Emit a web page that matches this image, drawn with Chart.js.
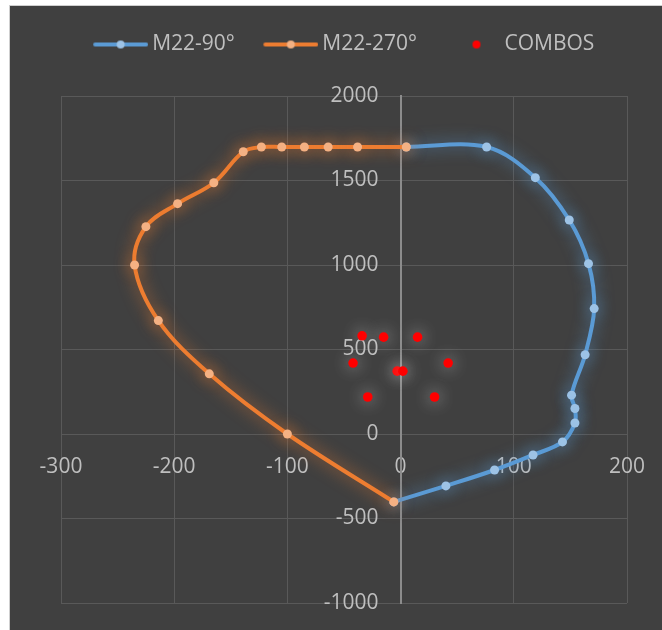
<!DOCTYPE html>
<html lang="en">
<head>
<meta charset="UTF-8">
<title>M22 interaction diagram</title>
<script src="https://cdn.jsdelivr.net/npm/chart.js"></script>
<style>
    body {
        margin: 0;
        background: #ffffff;
    }

    .panel {
        position: absolute;
        left: 9px;
        top: 5px;
        width: 653px;
        height: 625px;
        box-sizing: border-box;
        border-left: 1px solid #cfcfcf;
        border-top: 1px solid #cfcfcf;
        background: #404040;
    }

    .panel canvas {
        display: block;
    }
</style>
</head>
<body>
<div class="panel">
    <canvas id="chart" width="652" height="624"></canvas>
</div>

<script>
    // M22 curve at 90 degrees (moment x, axial y)
    var m22_90_x = [5, 76, 119, 149, 166, 171, 163, 151, 154, 154, 143, 117, 83, 40, -6];
    var m22_90_y = [1698, 1698, 1517, 1266, 1008, 742, 469, 230, 151, 65, -47, -124, -213, -307, -402];

    // M22 curve at 270 degrees
    var m22_270_x = [5, -38, -64, -85, -105, -123, -139, -165, -197, -225, -235, -214, -169, -100, -6];
    var m22_270_y = [1698, 1698, 1698, 1698, 1698, 1698, 1670, 1487, 1363, 1227, 1000, 671, 356, 0, -402];

    // load combinations
    var combos_x = [-34, -15, 15, -42, 42, -3, 2, -29, 30];
    var combos_y = [581, 573, 573, 420, 420, 372, 372, 219, 219];

    var xTicks = [-300, -200, -100, 0, 100, 200];
    var yTicks = [-1000, -500, 0, 500, 1000, 1500, 2000];

    var labelColor = '#bfbfbf';
    var gridColor = '#595959';
    var fontFamily = '"Open Sans", "Liberation Sans", sans-serif';

    function toPoints(xs, ys) {
        return xs.map(function (x, i) { return { x: x, y: ys[i] }; });
    }

    // small line + marker picture used as the legend symbol
    function legendSymbol(lineColor, dotColor, dotRadius, dotX) {
        var c = document.createElement('canvas');
        c.width = 57;
        c.height = 14;
        var g = c.getContext('2d');
        if (lineColor) {
            g.strokeStyle = lineColor;
            g.lineWidth = 4;
            g.lineCap = 'round';
            g.beginPath();
            g.moveTo(4, 7);
            g.lineTo(55, 7);
            g.stroke();
        }
        g.fillStyle = dotColor;
        g.beginPath();
        g.arc(dotX, 7, dotRadius, 0, Math.PI * 2);
        g.fill();
        return c;
    }

    // soft coloured glow around every dataset
    var glowPlugin = {
        id: 'glow',
        beforeDatasetDraw: function (chart, args) {
            var ds = chart.data.datasets[args.index];
            chart.ctx.save();
            chart.ctx.shadowColor = ds.glowColor;
            chart.ctx.shadowBlur = 16;
        },
        afterDatasetDraw: function (chart) {
            chart.ctx.restore();
        }
    };

    // leave room between the legend and the plot, nudge it right a little
    var legendGap = {
        id: 'legendGap',
        beforeInit: function (chart) {
            var fit = chart.legend.fit;
            chart.legend.fit = function () {
                fit.call(this);
                this.height = 95;
            };
        },
        afterLayout: function (chart) {
            chart.legend.left += 2;
            chart.legend.right += 2;
        }
    };

    function setTicks(values) {
        return function (scale) {
            scale.ticks = values.map(function (v) { return { value: v }; });
        };
    }

    // axes placed at x = 0 / y = 0 put their labels tight against the line;
    // move them away by a fixed offset instead of using ticks.padding
    // (which would also eat into the plot area)
    function offsetLabels(dx, dy) {
        return function (scale) {
            if (scale._labelOffsetDone) return;
            var compute = scale._computeLabelItems;
            scale._computeLabelItems = function (area) {
                var items = compute.call(this, area);
                items.forEach(function (it) {
                    it.options.translation[0] += dx;
                    it.options.translation[1] += dy;
                });
                return items;
            };
            scale._labelOffsetDone = true;
        };
    }

    var ctx = document.getElementById('chart').getContext('2d');
    var chart = new Chart(ctx, {
        type: 'scatter',
        data: {
            datasets: [
                {
                    label: 'M22-90°',
                    data: toPoints(m22_90_x, m22_90_y),
                    showLine: true,
                    tension: 0.35,
                    borderColor: '#5b9bd5',
                    borderWidth: 4,
                    pointRadius: 4.5,
                    pointBorderWidth: 0,
                    pointBackgroundColor: '#9dc3e6',
                    glowColor: 'rgba(91, 155, 213, 0.8)',
                    legendSymbol: legendSymbol('#5b9bd5', '#9dc3e6', 4, 29.5),
                    order: 3
                },
                {
                    label: 'M22-270°',
                    data: toPoints(m22_270_x, m22_270_y),
                    showLine: true,
                    tension: 0.35,
                    borderColor: '#ed7d31',
                    borderWidth: 4,
                    pointRadius: 4.5,
                    pointBorderWidth: 0,
                    pointBackgroundColor: '#f4b183',
                    glowColor: 'rgba(237, 125, 49, 0.8)',
                    legendSymbol: legendSymbol('#ed7d31', '#f4b183', 4, 29.5),
                    order: 2
                },
                {
                    label: 'COMBOS',
                    data: toPoints(combos_x, combos_y),
                    showLine: false,
                    pointRadius: 4.8,
                    pointBorderWidth: 0,
                    pointBackgroundColor: '#ff0000',
                    glowColor: 'rgba(220, 220, 220, 0.75)',
                    legendSymbol: legendSymbol(null, '#ff0000', 4, 33),
                    order: 1
                }
            ]
        },
        options: {
            responsive: false,
            devicePixelRatio: 1,
            animation: false,
            layout: {
                padding: { left: 51, right: 35, top: -5, bottom: 27 }
            },
            plugins: {
                legend: {
                    position: 'top',
                    labels: {
                        color: labelColor,
                        font: { family: fontFamily, size: 21 },
                        usePointStyle: true,
                        pointStyleWidth: 44,
                        padding: 33,
                        generateLabels: function (chart) {
                            return chart.data.datasets.map(function (ds, i) {
                                return {
                                    text: ds.label,
                                    pointStyle: ds.legendSymbol,
                                    datasetIndex: i,
                                    hidden: false,
                                    lineWidth: 0,
                                    fontColor: labelColor
                                };
                            });
                        }
                    }
                },
                tooltip: { enabled: false }
            },
            scales: {
                x: {
                    type: 'linear',
                    position: { y: 0 },
                    min: -300,
                    max: 200,
                    afterBuildTicks: setTicks(xTicks),
                    afterUpdate: offsetLabels(0, 20),
                    grid: { color: gridColor, lineWidth: 1, drawTicks: false },
                    border: { display: false },
                    ticks: {
                        color: labelColor,
                        font: { family: fontFamily, size: 21 },
                        padding: 0,
                        callback: function (v) { return String(v); }
                    }
                },
                y: {
                    type: 'linear',
                    position: { x: 0 },
                    min: -1000,
                    max: 2000,
                    afterBuildTicks: setTicks(yTicks),
                    afterUpdate: offsetLabels(-22, 0),
                    grid: { color: gridColor, lineWidth: 1, drawTicks: false },
                    border: { display: true, color: '#8c8c8c', width: 2 },
                    ticks: {
                        color: labelColor,
                        font: { family: fontFamily, size: 21 },
                        padding: 0,
                        callback: function (v) { return String(v); }
                    }
                }
            }
        },
        plugins: [glowPlugin, legendGap]
    });
</script>
</body>
</html>
